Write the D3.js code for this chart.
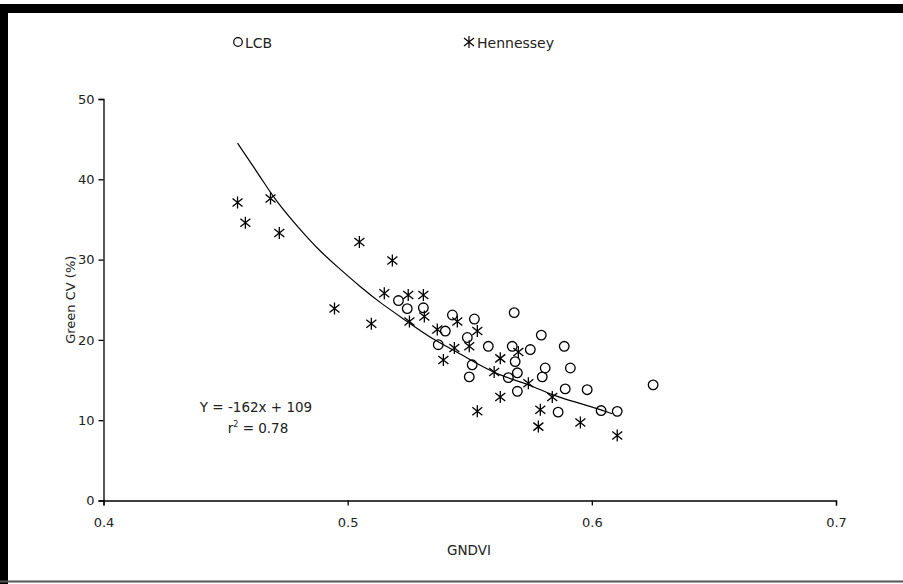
<!DOCTYPE html>
<html>
<head>
<meta charset="utf-8">
<script src="https://cdn.jsdelivr.net/npm/d3@7"></script>
<style>
  html, body { margin: 0; padding: 0; background: #fff; }
  svg { display: block; }
  text { font-family: "DejaVu Sans", Verdana, sans-serif; fill: #222; }
</style>
</head>
<body>
<svg id="chart" width="903" height="584"></svg>
<script>
// ---- data ----
const lcbX = [0.5208, 0.5244, 0.5310, 0.5429, 0.5519, 0.5400, 0.5371, 0.5490, 0.5576, 0.5510,
              0.5498, 0.5682, 0.5793, 0.5674, 0.5748, 0.5887, 0.5686, 0.5809, 0.5912, 0.5695,
              0.5797, 0.5658, 0.5695, 0.5891, 0.5981, 0.5862, 0.6038, 0.6104, 0.6251];
const lcbY = [24.9, 23.9, 24.0, 23.1, 22.6, 21.1, 19.4, 20.3, 19.2, 16.9,
              15.4, 23.4, 20.6, 19.2, 18.8, 19.2, 17.3, 16.5, 16.5, 15.9,
              15.4, 15.3, 13.6, 13.9, 13.8, 11.0, 11.2, 11.1, 14.4];

const henX = [0.4549, 0.4581, 0.4684, 0.4720, 0.4946, 0.5048, 0.5097, 0.5183, 0.5150, 0.5248,
              0.5310, 0.5253, 0.5314, 0.5367, 0.5449, 0.5531, 0.5498, 0.5437, 0.5392, 0.5531,
              0.5699, 0.5625, 0.5600, 0.5740, 0.5838, 0.5625, 0.5789, 0.5781, 0.5953, 0.6104];
const henY = [37.1, 34.6, 37.6, 33.3, 23.9, 32.2, 22.0, 29.9, 25.8, 25.6,
              25.6, 22.3, 22.9, 21.3, 22.3, 21.1, 19.2, 19.0, 17.5, 11.1,
              18.5, 17.7, 16.0, 14.6, 12.9, 12.9, 11.3, 9.2, 9.7, 8.1];

// fitted trend curve as drawn in the picture
const trendX = [0.4549, 0.4651, 0.4704, 0.4806, 0.4888, 0.4958, 0.5052, 0.5134, 0.5244, 0.5351,
                0.5449, 0.5543, 0.5637, 0.5740, 0.5838, 0.5940, 0.6026, 0.6084];
const trendY = [44.5, 39.9, 37.4, 33.7, 31.0, 29.1, 26.6, 24.6, 22.3, 20.0,
                18.5, 16.8, 15.4, 14.5, 13.1, 12.2, 11.4, 10.8];

const xTicks = [0.4, 0.5, 0.6, 0.7];
const yTicks = [0, 10, 20, 30, 40, 50];
const seriesNames = ["LCB", "Hennessey"];
const eqLine1 = "Y = -162x + 109";
const eqR2 = "0.78";

// ---- drawing ----
const svg = d3.select("#chart");
const W = 903, H = 584;

// frame
svg.append("rect").attr("x", 0).attr("y", 0).attr("width", W).attr("height", H).attr("fill", "#fff");
svg.append("rect").attr("x", 0).attr("y", 4).attr("width", W).attr("height", 9).attr("fill", "#000");
svg.append("rect").attr("x", 0).attr("y", 4).attr("width", 8).attr("height", H - 4).attr("fill", "#000");
svg.append("line").attr("x1", 0).attr("x2", W).attr("y1", 581.5).attr("y2", 581.5)
   .attr("stroke", "#555").attr("stroke-width", 2);

const x = d3.scaleLinear().domain([0.4, 0.7]).range([103.5, 836]);
const y = d3.scaleLinear().domain([0, 50]).range([500.5, 99]);

// axes
const xAxis = d3.axisBottom(x).tickValues(xTicks).tickFormat(d3.format(".1f")).tickSizeOuter(0).tickSize(5).tickPadding(12);
const yAxis = d3.axisLeft(y).tickValues(yTicks).tickFormat(d3.format("d")).tickSizeOuter(0).tickSize(5).tickPadding(4);

const gx = svg.append("g").attr("transform", `translate(0,${y(0)})`).call(xAxis);
const gy = svg.append("g").attr("transform", `translate(${x(0.4)},0)`).call(yAxis);
[gx, gy].forEach(g => {
  g.selectAll("path.domain").attr("stroke", "#000").attr("stroke-width", 1.3);
  g.selectAll(".tick line").attr("stroke", "#000").attr("stroke-width", 1.3);
  g.selectAll(".tick text").attr("fill", "#222").style("font-size", "13px")
    .style("font-family", '"DejaVu Sans", Verdana, sans-serif');
});

// axis titles
svg.append("text").attr("x", 469).attr("y", 555).attr("text-anchor", "middle")
   .style("font-size", "13.5px").text("GNDVI");
svg.append("text").attr("transform", `translate(75,${(y(0) + y(50)) / 2}) rotate(-90)`)
   .attr("text-anchor", "middle").style("font-size", "13px").text("Green CV (%)");

// trend curve
const line = d3.line().x(d => x(d[0])).y(d => y(d[1])).curve(d3.curveBasis);
svg.append("path").datum(trendX.map((v, i) => [v, trendY[i]]))
   .attr("d", line).attr("fill", "none").attr("stroke", "#000").attr("stroke-width", 1.2);

// markers
const starPath = "M0,-6L0,6M-5,-4L5,4M-5,4L5,-4";
svg.append("g").selectAll("circle").data(lcbX.map((v, i) => [v, lcbY[i]])).join("circle")
   .attr("cx", d => x(d[0])).attr("cy", d => y(d[1])).attr("r", 4.8)
   .attr("fill", "none").attr("stroke", "#000").attr("stroke-width", 1.3);
svg.append("g").selectAll("path").data(henX.map((v, i) => [v, henY[i]])).join("path")
   .attr("transform", d => `translate(${x(d[0])},${y(d[1])})`).attr("d", starPath)
   .attr("fill", "none").attr("stroke", "#000").attr("stroke-width", 1.3);

// legend
const lg = svg.append("g");
lg.append("circle").attr("cx", 238).attr("cy", 42).attr("r", 4.3)
  .attr("fill", "none").attr("stroke", "#000").attr("stroke-width", 1.2);
lg.append("text").attr("x", 245).attr("y", 47.5).style("font-size", "14px").text(seriesNames[0]);
lg.append("path").attr("transform", "translate(469,42)").attr("d", starPath)
  .attr("fill", "none").attr("stroke", "#000").attr("stroke-width", 1.2);
lg.append("text").attr("x", 477).attr("y", 47.5).style("font-size", "14px").text(seriesNames[1]);

// equation
svg.append("text").attr("x", 256).attr("y", 412).attr("text-anchor", "middle")
   .style("font-size", "13.5px").text(eqLine1);
const r2 = svg.append("text").attr("x", 258).attr("y", 433).attr("text-anchor", "middle")
   .style("font-size", "13.5px");
r2.append("tspan").text("r");
r2.append("tspan").attr("dy", -6).style("font-size", "8px").text("2");
r2.append("tspan").attr("dy", 6).text(" = " + eqR2);
</script>
</body>
</html>
